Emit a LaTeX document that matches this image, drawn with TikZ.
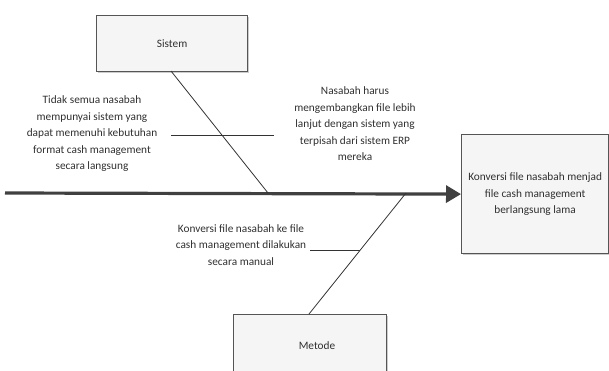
\documentclass[tikz,border=0pt]{standalone}
\usepackage{fontspec}
\setmainfont{Carlito}
\usetikzlibrary{arrows.meta,shadows}
\definecolor{boxfill}{HTML}{F5F5F5}
\definecolor{boxline}{HTML}{555555}
\definecolor{spinecol}{HTML}{404040}
\definecolor{txtcol}{HTML}{303030}
\tikzset{
  catbox/.style={draw=boxline, line width=1.2pt, fill=boxfill, inner sep=0pt,
    drop shadow={shadow xshift=1.5pt, shadow yshift=-1.5pt, fill=black!25, opacity=0.8}},
  bone/.style={draw=black!80, line width=0.8pt},
  cause/.style={align=center, font=\fontsize{11.3}{16.5}\selectfont, text=txtcol, inner sep=0pt},
}
\begin{document}
\begin{tikzpicture}[x=1pt,y=-1pt]
\useasboundingbox (0,0) rectangle (609,370);
% boxes
\node[catbox, minimum width=151pt, minimum height=56pt, anchor=north west] (sistem) at (96,15) {};
\node[cause] at (sistem.center) {Sistem};
\node[catbox, minimum width=147pt, minimum height=119pt, anchor=north west] (effect) at (461,134) {};
\node[cause] at (effect.center) {Konversi file nasabah menjad\\file cash management\\berlangsung lama};
\begin{scope}
\clip (0,0) rectangle (609,370);
\node[catbox, minimum width=153pt, minimum height=80pt, anchor=north west] (metode) at (233,314) {};
\end{scope}
\node[cause] at (317,346) {Metode};
% spine
\coordinate (tail) at (5,193);
\coordinate (s1) at (268,193);
\coordinate (s2) at (406,193);
\draw[draw=spinecol, line width=3.2pt, -{Triangle[length=15pt,width=17pt]}] (tail) -- (effect.west);
% bones
\coordinate (sistemfoot) at (171,71);
\draw[bone] (sistemfoot) -- (s1);
\coordinate (h1a) at (171,135);
\coordinate (h1b) at (274,135);
\draw[bone] (h1a) -- (h1b);
\coordinate (metodetop) at (309,314);
\draw[bone] (metodetop) -- (s2);
\coordinate (h2a) at (310,250);
\coordinate (h2b) at (360,250);
\draw[bone] (h2a) -- (h2b);
% cause texts
\node[cause] (c1) at (92,134) {Tidak semua nasabah\\mempunyai sistem yang\\dapat memenuhi kebutuhan\\format cash management\\secara langsung};
\node[cause] (c2) at (355,124) {Nasabah harus\\mengembangkan file lebih\\lanjut dengan sistem yang\\terpisah dari sistem ERP\\mereka};
\node[cause] (c3) at (241,245) {Konversi file nasabah ke file\\cash management dilakukan\\secara manual};
\end{tikzpicture}
\end{document}
